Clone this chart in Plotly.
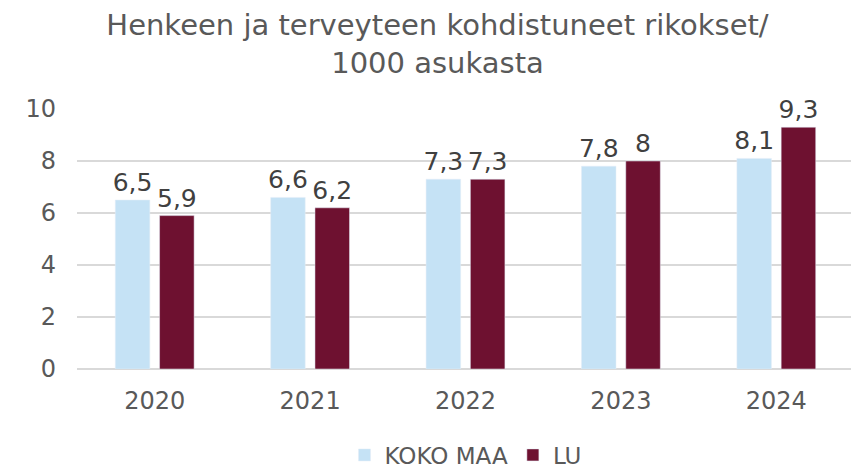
import plotly.graph_objects as go

years = ["2020", "2021", "2022", "2023", "2024"]
koko_maa = [6.5, 6.6, 7.3, 7.8, 8.1]
lu = [5.9, 6.2, 7.3, 8.0, 9.3]
series_names = ["KOKO MAA", "LU"]
title_text = "Henkeen ja terveyteen kohdistuneet rikokset/<br>1000 asukasta"

def fmt(v):
    s = ("%g" % v)
    return s.replace(".", ",")

FONT = "DejaVu Sans"
fig = go.Figure()
for name, vals, col in ((series_names[0], koko_maa, "#C5E2F5"), (series_names[1], lu, "#6E1130")):
    fig.add_trace(go.Bar(x=years, y=vals, name=name, marker_color=col,
                         text=[fmt(v) for v in vals], textposition="outside",
                         constraintext="none", cliponaxis=False,
                         textfont=dict(size=25, color="#404040", family=FONT)))

fig.update_layout(
    width=859, height=470,
    margin=dict(l=69, r=13, t=101, b=109),
    paper_bgcolor="white", plot_bgcolor="white",
    font=dict(family=FONT, color="#595959", size=22),
    title=dict(text=title_text, x=0.5, xanchor="center", y=0.9426, yanchor="middle",
               yref="container", font=dict(size=29, color="#595959", family=FONT)),
    barmode="group", bargap=0.43, bargroupgap=0.22,
    legend=dict(orientation="h", x=0.5, xanchor="center", y=0.049, yanchor="middle",
                yref="container", font=dict(size=23, color="#595959", family=FONT)),
    showlegend=True,
)
fig.update_yaxes(range=[0, 10], dtick=2, showgrid=True, gridcolor="#D9D9D9", gridwidth=1.5,
                 zeroline=True, zerolinecolor="#D9D9D9", zerolinewidth=1.5, automargin=False,
                 tickfont=dict(size=24, color="#595959"), ticks="", ticklabelstandoff=20)
fig.update_xaxes(type="category", showline=False, tickfont=dict(size=24, color="#595959"),
                 ticks="", automargin=False, ticklabelstandoff=15)

fig.write_html("out.html", config={"displayModeBar": False})
